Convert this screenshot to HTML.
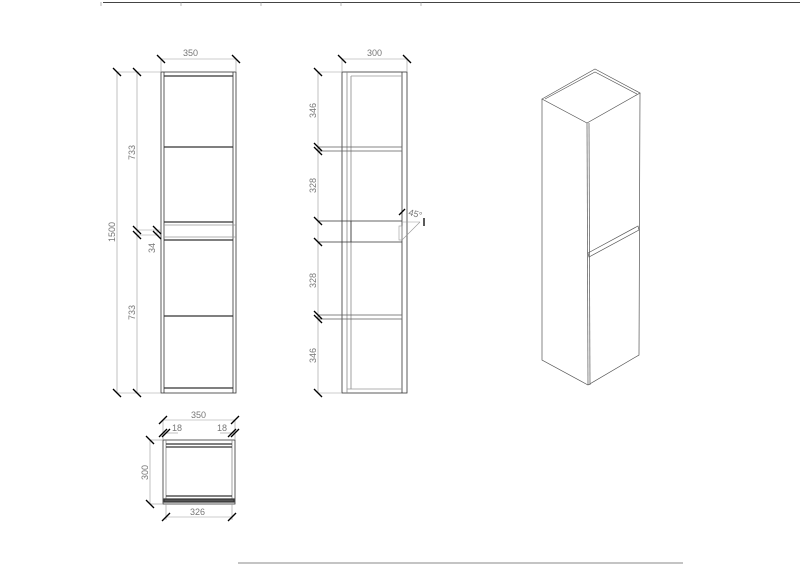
<!DOCTYPE html>
<html><head><style>body{margin:0;background:#fff}svg{display:block}text{font-family:"Liberation Sans",sans-serif;font-size:9px;fill:#777;stroke:none}</style></head>
<body><svg width="800" height="565" viewBox="0 0 800 565" fill="none" stroke="#333" stroke-width="0.8">
<line x1="103" y1="2.5" x2="800" y2="2.5" stroke="#444" stroke-width="1"/>
<g stroke="#888" stroke-width="0.6"><line x1="101" y1="2" x2="101" y2="6"/><line x1="181" y1="2" x2="181" y2="6"/><line x1="261" y1="2" x2="261" y2="6"/><line x1="341" y1="2" x2="341" y2="6"/><line x1="421" y1="2" x2="421" y2="6"/></g>
<line x1="238" y1="563" x2="683" y2="563" stroke="#888" stroke-width="1"/>

<!-- front view -->
<rect x="161" y="72" width="75" height="321"/>
<line x1="164" y1="72" x2="164" y2="393"/><line x1="233" y1="72" x2="233" y2="393"/>
<g stroke-width="1.2"><line x1="164" y1="76" x2="233" y2="76"/><line x1="164" y1="147" x2="233" y2="147"/><line x1="164" y1="222" x2="233" y2="222"/><line x1="164" y1="240" x2="233" y2="240"/><line x1="164" y1="316" x2="233" y2="316"/><line x1="164" y1="388" x2="233" y2="388"/></g>
<line x1="164" y1="225" x2="236" y2="225" stroke="#999"/><line x1="164" y1="237" x2="236" y2="237" stroke="#999"/>
<g stroke="#999" stroke-width="0.6">
<line x1="117" y1="72" x2="161" y2="72"/><line x1="117" y1="393" x2="161" y2="393"/>
<line x1="117" y1="72" x2="117" y2="393"/><line x1="137" y1="72" x2="137" y2="393"/><line x1="157" y1="230" x2="157" y2="235"/>
<line x1="137" y1="230" x2="161" y2="230"/><line x1="137" y1="235" x2="161" y2="235"/>
<line x1="161" y1="59" x2="236" y2="59"/><line x1="161" y1="59" x2="161" y2="72"/><line x1="236" y1="59" x2="236" y2="72"/></g>
<g stroke="#000" stroke-width="1.3">
<line x1="113" y1="68" x2="121" y2="76"/><line x1="133" y1="68" x2="141" y2="76"/><line x1="113" y1="389" x2="121" y2="397"/><line x1="133" y1="389" x2="141" y2="397"/>
<line x1="133" y1="226" x2="141" y2="234"/><line x1="133" y1="231" x2="141" y2="239"/><line x1="153" y1="226" x2="161" y2="234"/><line x1="153" y1="231" x2="161" y2="239"/>
<line x1="157" y1="55" x2="165" y2="63"/><line x1="232" y1="55" x2="240" y2="63"/></g>
<text x="183" y="56">350</text>
<text transform="translate(115,242) rotate(-90)">1500</text>
<text transform="translate(135,160) rotate(-90)">733</text>
<text transform="translate(135,320) rotate(-90)">733</text>
<text transform="translate(155,253) rotate(-90)">34</text>

<!-- side view -->
<rect x="342" y="72" width="65" height="321"/>
<line x1="347" y1="72" x2="347" y2="393" stroke="#888"/><line x1="351" y1="76" x2="351" y2="389" stroke="#888"/>
<line x1="402" y1="72" x2="402" y2="393"/><line x1="351" y1="76" x2="402" y2="76" stroke="#999"/><line x1="347" y1="389" x2="402" y2="389" stroke="#999"/>
<rect x="318" y="147" width="84" height="4" stroke="#666"/>
<rect x="318" y="315" width="84" height="4" stroke="#666"/>
<line x1="318" y1="221" x2="402" y2="221"/><line x1="318" y1="242" x2="402" y2="242"/><line x1="351" y1="221" x2="351" y2="242"/>
<line x1="318" y1="72" x2="342" y2="72" stroke="#999" stroke-width="0.6"/><line x1="318" y1="393" x2="342" y2="393" stroke="#999" stroke-width="0.6"/>
<line x1="318" y1="72" x2="318" y2="393" stroke="#999" stroke-width="0.6"/>
<line x1="342" y1="59" x2="407" y2="59" stroke="#999" stroke-width="0.6"/><line x1="342" y1="59" x2="342" y2="72" stroke="#999" stroke-width="0.6"/><line x1="407" y1="59" x2="407" y2="72" stroke="#999" stroke-width="0.6"/>
<line x1="402" y1="240" x2="420" y2="222" stroke="#999" stroke-width="0.6"/><path d="M402 222 L420 222" stroke="#999" stroke-width="0.6"/><rect x="399" y="226" width="3" height="14" stroke="#999" stroke-width="0.6"/>
<g stroke="#000" stroke-width="1.3">
<line x1="314" y1="68" x2="322" y2="76"/><line x1="314" y1="389" x2="322" y2="397"/>
<line x1="314" y1="143" x2="322" y2="151"/><line x1="314" y1="147" x2="322" y2="155"/>
<line x1="314" y1="217" x2="322" y2="225"/><line x1="314" y1="238" x2="322" y2="246"/>
<line x1="314" y1="311" x2="322" y2="319"/><line x1="314" y1="315" x2="322" y2="323"/>
<line x1="338" y1="55" x2="346" y2="63"/><line x1="403" y1="55" x2="411" y2="63"/>
<line x1="399" y1="215" x2="405" y2="209"/><line x1="424" y1="218" x2="424" y2="226"/></g>
<text x="367" y="56">300</text>
<text transform="translate(316,118) rotate(-90)">346</text>
<text transform="translate(316,193) rotate(-90)">328</text>
<text transform="translate(316,288) rotate(-90)">328</text>
<text transform="translate(316,363) rotate(-90)">346</text>
<text x="408" y="215" font-size="8" transform="rotate(15 408 215)">45°</text>

<!-- plan -->
<rect x="163" y="440" width="72" height="64"/>
<line x1="166" y1="440" x2="166" y2="500" stroke="#888"/><line x1="232" y1="440" x2="232" y2="500" stroke="#888"/>
<g stroke-width="1.2"><line x1="166" y1="444" x2="232" y2="444"/><line x1="166" y1="447" x2="232" y2="447"/><line x1="166" y1="496" x2="232" y2="496"/><rect x="164" y="499" width="70" height="3" fill="#555"/></g>
<g stroke="#999" stroke-width="0.6">
<line x1="163" y1="420" x2="235" y2="420"/><line x1="163" y1="420" x2="163" y2="440"/><line x1="235" y1="420" x2="235" y2="440"/>
<line x1="163" y1="433" x2="178" y2="433"/><line x1="220" y1="433" x2="235" y2="433"/>
<line x1="150" y1="440" x2="150" y2="504"/><line x1="150" y1="440" x2="163" y2="440"/><line x1="150" y1="504" x2="163" y2="504"/>
<line x1="166" y1="517" x2="232" y2="517"/><line x1="166" y1="504" x2="166" y2="520"/><line x1="232" y1="504" x2="232" y2="520"/></g>
<g stroke="#000" stroke-width="1.3">
<line x1="159" y1="424" x2="167" y2="416"/><line x1="231" y1="424" x2="239" y2="416"/>
<line x1="159" y1="437" x2="167" y2="429"/><line x1="162" y1="437" x2="170" y2="429"/><line x1="228" y1="437" x2="236" y2="429"/><line x1="231" y1="437" x2="239" y2="429"/>
<line x1="146" y1="436" x2="154" y2="444"/><line x1="146" y1="500" x2="154" y2="508"/>
<line x1="162" y1="521" x2="170" y2="513"/><line x1="228" y1="521" x2="236" y2="513"/></g>
<text x="191" y="418">350</text><text x="172" y="431" font-size="8">18</text><text x="217" y="431" font-size="8">18</text>
<text x="190" y="515">326</text>
<text transform="translate(148,480) rotate(-90)">300</text>

<!-- iso -->
<g stroke="#555" stroke-width="0.7">
<path d="M542 99 L595 69 L640 93 L587 123 Z"/>
<path d="M545 99 L595 72 L637 94"/>
<path d="M542 99 L542 360 L588 385 L639 355 L640 93"/>
<line x1="587" y1="123" x2="588" y2="385"/><line x1="589" y1="123" x2="590" y2="385"/>
<path d="M588 253 L638 226 L639 230 L589 257 Z"/>
</g>
</svg></body></html>
